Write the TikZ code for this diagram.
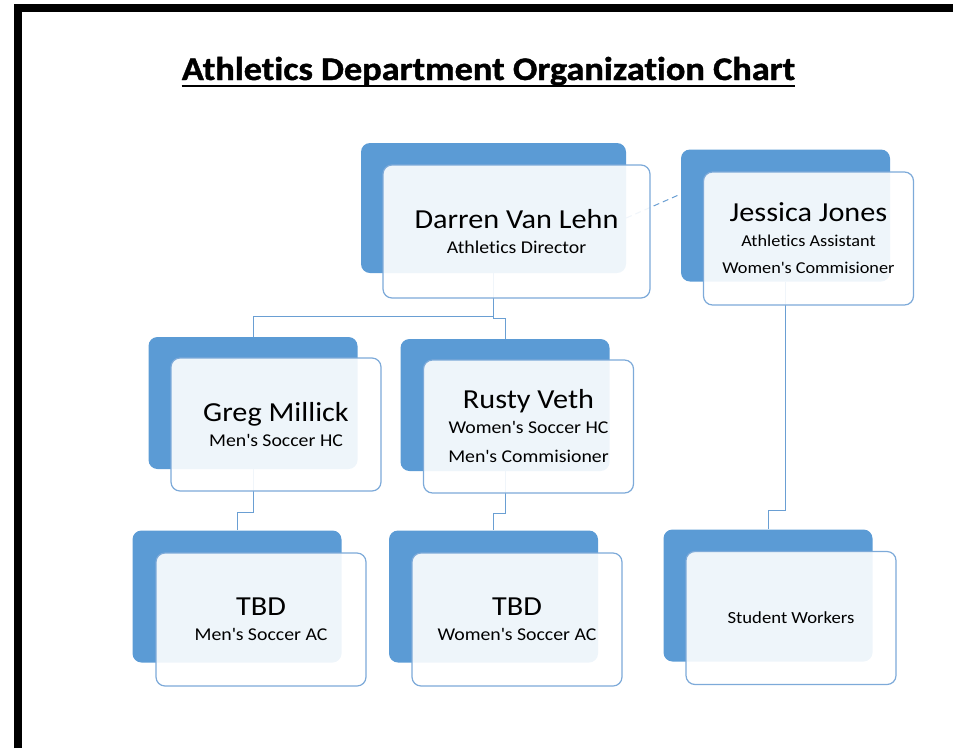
\documentclass[tikz,border=0pt]{standalone}
\usepackage{fontspec}
\setmainfont{Carlito}[FakeStretch=1.1, Ligatures={NoCommon}, BoldFeatures={FakeBold=1.2}]
\usepackage{tikz}
\usetikzlibrary{calc}
\usetikzlibrary{positioning}

\definecolor{backblue}{HTML}{5B9BD5}
\definecolor{frontline}{HTML}{7DAAD9}
\definecolor{linkblue}{HTML}{6A9FD3}

\newcommand{\pname}[1]{{\fontsize{27.5}{25}\selectfont #1}}
\newcommand{\apos}{\textquotesingle}

\begin{document}
\begin{tikzpicture}[x=1pt, y=-1pt]
    \tikzset{back/.style={rectangle, rounded corners=9pt, fill=backblue, minimum width=209pt, minimum height=132pt, inner sep=0pt}}
    \tikzset{front/.style={rectangle, rounded corners=9pt, draw=frontline, line width=1.2pt, fill=white, fill opacity=0.9, text opacity=1, minimum width=210pt, minimum height=133pt, inner sep=0pt, align=center, font=\fontsize{18}{25}\selectfont}}
    \tikzset{link/.style={draw=linkblue, line width=1pt}}
    \useasboundingbox (0,0) rectangle (953,748);
    % frame
    \draw[line width=8pt] (18,748) -- (18,8) -- (953,8);
    % title
    \node[anchor=base, font=\bfseries\fontsize{33}{40}\selectfont, inner sep=0pt] (title) at (488.5,80) {Athletics Department Organization Chart};
    \draw[line width=2pt] ([yshift=-6pt]title.base west) -- ([yshift=-6pt]title.base east);
    % back boxes
    \node[back, minimum width=265pt, minimum height=130pt] (darrenB) at (493.5,208) {};
    \node[back] (jessicaB) at (785.5,215.5) {};
    \node[back] (gregB) at (253,403) {};
    \node[back] (rustyB) at (505,405) {};
    \node[back] (tbdaB) at (237,596.5) {};
    \node[back] (tbdbB) at (493.5,596.5) {};
    \node[back] (studentB) at (768,595.5) {};
    % links
    \draw[link] (darrenB.south) -- ++(0,43) -| (gregB.north);
    \draw[link] (darrenB.south) -- ++(0,45) -| (rustyB.north);
    \draw[link] (gregB.south) -- ++(0,43) -| (tbdaB.north);
    \draw[link] (rustyB.south) -- ++(0,42) -| (tbdbB.north);
    \draw[link] (jessicaB.south) -- ++(0,229) -| (studentB.north);
    \draw[link, dash pattern=on 6pt off 4pt] ([yshift=-10pt]darrenB.east) -- ([yshift=21.5pt]jessicaB.west);
    % front boxes
    \node[front, minimum width=267pt] (darren) at (516.5,231.5) {\pname{Darren Van Lehn}\\Athletics Director};
    \node[front, font=\fontsize{16.6}{25}\selectfont] (jessica) at (808.5,238.5) {\pname{Jessica Jones}\\Athletics Assistant\\[2pt]Women\apos s Commisioner};
    \node[front] (greg) at (276,424.5) {\pname{Greg Millick}\\Men\apos s Soccer HC};
    \node[front] (rusty) at (528.5,426.5) {\pname{Rusty Veth}\\Women\apos s Soccer HC\\[4pt]Men\apos s Commisioner};
    \node[front] (tbda) at (261,619.5) {\pname{TBD}\\Men\apos s Soccer AC};
    \node[front] (tbdb) at (517,619.5) {\pname{TBD}\\Women\apos s Soccer AC};
    \node[front, font=\fontsize{17}{25}\selectfont] (student) at (791,618) {Student Workers};
\end{tikzpicture}
\end{document}
